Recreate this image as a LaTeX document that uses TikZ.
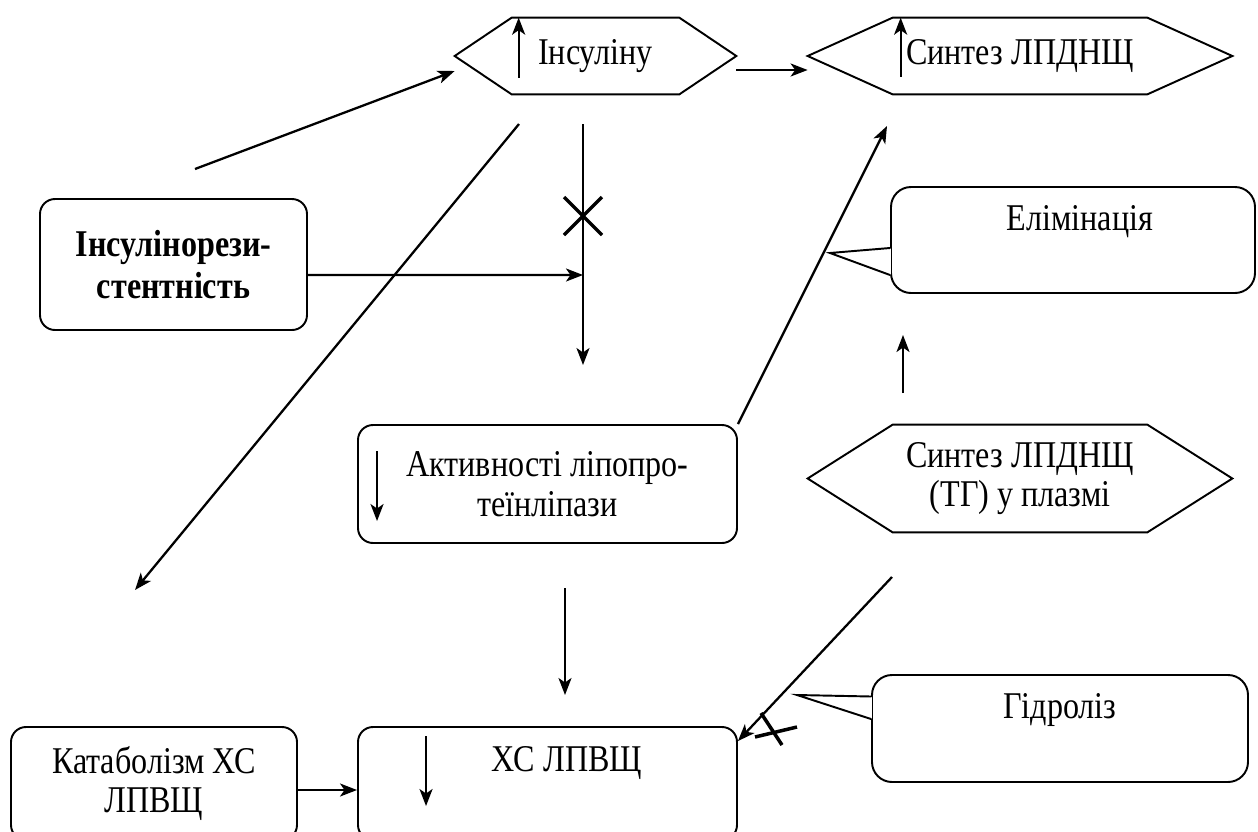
\documentclass[tikz,border=0pt]{standalone}
\usepackage{fontspec}
\setmainfont{Liberation Serif}[FakeStretch=0.85]
\usetikzlibrary{arrows.meta}

\begin{document}
\begin{tikzpicture}[x=0.2mm,y=-0.2mm,
        font=\fontsize{21.5}{22.5}\selectfont,
        arr/.style={line width=1.3pt,arrows = -{Stealth[length=3.4mm,width=2.6mm,inset=0.9mm]}},
        rbox/.style={draw,line width=1.1pt,rounded corners=3mm,align=center,inner sep=0pt},
        hexbox/.style={inner sep=0pt,align=center},
        callbody/.style={draw,line width=1.1pt,rounded corners=4mm,inner sep=0pt},
        xline/.style={line width=2pt}]

            %\draw [help lines,step=50] (0,0) grid (1258,832);
            \clip (0,0) rectangle (1258,832);

            \path   (595.5,56) node (ins) [hexbox,minimum width=56.2mm,minimum height=15.2mm] {Інсуліну}
                    (1020,56)  node (syn) [hexbox,minimum width=84.8mm,minimum height=15.2mm] {Синтез ЛПДНЩ}
                    (1020,478.5) node (pla) [hexbox,minimum width=84.8mm,minimum height=21.4mm] {Синтез ЛПДНЩ\\(ТГ) у плазмі}
                    (173.5,264.5) node (ir) [rbox,minimum width=53.4mm,minimum height=26.2mm,
                                  font=\fontsize{21.5}{23.5}\selectfont\bfseries] {Інсулінорези-\\стентність}
                    (547.5,484) node (lpl) [rbox,minimum width=75.8mm,minimum height=23.6mm] {Активності ліпопро-\\теїнліпази}
                    (154,783.5) node (kat) [rbox,minimum width=57.2mm,minimum height=22.6mm] {Катаболізм ХС\\ЛПВЩ}
                    (547.5,783.5) node (hdl) [rbox,minimum width=75.8mm,minimum height=22.6mm] {}
                    (567,763)  node (hdltxt) {ХС ЛПВЩ}
                    (1073,240) node (elim) [callbody,minimum width=72.8mm,minimum height=21.2mm] {}
                    (1080,222) node (elimtxt) {Елімінація}
                    (1060,728.5) node (hyd) [callbody,minimum width=75.2mm,minimum height=21.4mm] {}
                    (1060,710) node (hydtxt) {Гідроліз};

            \path   (830,253) coordinate (elim-tip)
                    (797,695) coordinate (hyd-tip)
                    (195,169) coordinate (s1)
                    (519,124) coordinate (s3)
                    (135,590) coordinate (e3)
                    (583,124) coordinate (s4)
                    (583,365) coordinate (e4)
                    (583,275) coordinate (j4)
                    (887,126) coordinate (e6)
                    (903,393) coordinate (s7)
                    (903,335) coordinate (e7)
                    (565,588) coordinate (s8)
                    (565,695) coordinate (e8)
                    (892,577) coordinate (s9)
                    (583,216) coordinate (x1)
                    (772,729) coordinate (x2);

            \foreach \n/\c in {ins/11.4mm,syn/17mm,pla/17mm}
                \draw[line width=1.1pt] (\n.west) -- ([xshift=\c]\n.north west) -- ([xshift=-\c]\n.north east)
                    -- (\n.east) -- ([xshift=-\c]\n.south east) -- ([xshift=\c]\n.south west) -- cycle;

            \foreach \n/\a/\b in {elim/-1.6mm/-7mm,hyd/6.4mm/1.9mm}{
                \fill[white] ([xshift=-0.8pt,yshift=\a]\n.west) rectangle ([xshift=0.8pt,yshift=\b]\n.west);
                \draw[line width=1.1pt,line cap=round] ([yshift=\a]\n.west) -- (\n-tip) -- ([yshift=\b]\n.west);
            }

            \draw[arr] (s1) -- ([yshift=-3mm]ins.west);
            \draw[arr] ([yshift=-2.8mm]ins.east) -- ([yshift=-2.8mm]syn.west);
            \draw[arr] (s3) -- (e3);
            \draw[arr] (s4) -- (e4);
            \draw[arr] ([yshift=-2.1mm]ir.east) -- (j4);
            \draw[arr] (lpl.north east) -- (e6);
            \draw[arr] (s7) -- (e7);
            \draw[arr] (s8) -- (e8);
            \draw[arr] (s9) -- ([yshift=-3mm]hdl.north east);
            \draw[arr] ([yshift=-1.3mm]kat.east) -- ([yshift=-1.3mm]hdl.west);

            \draw[arr] ([xshift=12.8mm,yshift=-12mm]ins.north west) -- ([xshift=12.8mm]ins.north west);
            \draw[arr] ([xshift=18.6mm,yshift=-11.8mm]syn.north west) -- ([xshift=18.6mm]syn.north west);
            \draw[arr] ([xshift=4mm,yshift=-5.4mm]lpl.north west) -- ([xshift=4mm,yshift=-19.4mm]lpl.north west);
            \draw[arr] ([xshift=13.8mm,yshift=-2mm]hdl.north west) -- ([xshift=13.8mm,yshift=-16mm]hdl.north west);

            \draw[xline] ([shift={(-19,-19)}]x1) -- ([shift={(19,19)}]x1);
            \draw[xline] ([shift={(-19,19)}]x1) -- ([shift={(19,-19)}]x1);
            \draw[xline] ([shift={(-11,-16)}]x2) -- ([shift={(10,16)}]x2);
            \draw[xline] ([shift={(-17,8)}]x2) -- ([shift={(25,-2)}]x2);
        \end{tikzpicture}
\end{document}
